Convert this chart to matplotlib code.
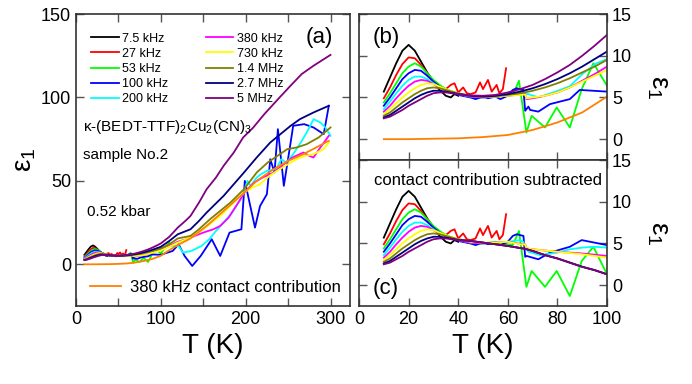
import matplotlib
matplotlib.use("Agg")
import matplotlib.pyplot as plt

plt.rcParams['font.family'] = ['Liberation Sans', 'DejaVu Sans']
plt.rcParams['mathtext.fontset'] = 'custom'
plt.rcParams['mathtext.rm'] = 'Liberation Sans'
plt.rcParams['mathtext.it'] = 'Liberation Sans'
plt.rcParams['mathtext.bf'] = 'Liberation Sans:bold'

# ---- data ----
freqs = ["7.5 kHz", "27 kHz", "53 kHz", "100 kHz", "200 kHz",
         "380 kHz", "730 kHz", "1.4 MHz", "2.7 MHz", "5 MHz"]
colors = ["#000000", "#ff0000", "#00ff00", "#0000ff", "#00ffff",
          "#ff00ff", "#ffff00", "#808000", "#000080", "#800080"]

T_low = [10, 12.5, 15, 17.5, 20, 22.5, 25, 27.5, 30, 32.5, 35, 40, 45, 50, 55, 60]

T_black = [10, 12.5, 15, 17.5, 20, 22.5, 25, 27.5, 30, 32.5, 35, 37, 38.5, 40]
e_black = [5.7, 7.4, 9.1, 10.6, 11.3, 10.6, 9.3, 8.0, 6.9, 5.9, 5.2, 5.0, 5.4, 5.2]

T_red = [10, 12.5, 15, 17.5, 20, 22.5, 25, 27.5, 30, 32.5, 35, 37, 38.5, 40, 42, 43.5,
         45, 47, 48.8, 50, 52, 53.5, 55.5, 56.6, 58, 59.3]
e_red = [4.9, 6.2, 7.7, 9.0, 9.8, 9.7, 8.9, 7.9, 7.0, 6.4, 6.0, 6.5, 6.7, 5.6, 6.2, 5.5,
         5.4, 5.6, 6.8, 6.0, 7.1, 5.7, 6.5, 5.5, 6.0, 8.5]

T_green = [10, 12.5, 15, 17.5, 20, 22.5, 25, 27.5, 30, 32.5, 35, 40, 45, 50, 55, 60,
           62, 64.5, 67.5, 69.6, 75, 79.7, 85, 89.8, 94.5, 100, 105, 110]
e_green = [4.4, 5.5, 6.7, 7.9, 8.7, 9.1, 8.7, 7.9, 7.1, 6.5, 6.0, 5.4, 5.0, 5.0, 5.2, 5.4,
           5.3, 7.0, 0.8, 2.8, 1.4, 3.8, 1.4, 6.0, 9.1, 6.4, 10, 13]
Tc_green = [60, 62, 64.5, 67.5, 69.6, 75, 79.7, 85, 89.8, 94.5, 100]
ec_green = [4.9, 4.8, 6.5, -0.2, 1.7, -0.2, 1.7, -1.3, 2.9, 4.6, 1.3]

T_blue = [10, 12.5, 15, 17.5, 20, 22.5, 25, 27.5, 30, 32.5, 35, 40, 45, 47, 50, 52, 55, 57,
          60, 62, 63.6, 66.3, 67, 68.3, 69, 72.3, 77, 85, 89, 100, 114, 121, 128, 137,
          147, 160, 170, 181, 195, 199, 211, 217, 225, 229, 234, 238, 245, 253, 256,
          269, 280, 292, 298]
e_blue = [4.0, 5.0, 6.1, 7.2, 7.9, 8.3, 8.2, 7.6, 6.9, 6.3, 5.9, 5.3, 5.0, 4.8, 5.1, 4.9, 5.1, 4.8,
          5.2, 5.9, 6.1, 5.9, 3.4, 3.9, 3.5, 3.3, 4.2, 4.8, 5.9, 5.7, 8, 12, 5, -1,
          5, 15, 5, 19, 21, 50, 22, 35, 42, 63, 55, 81, 47, 73, 83,
          84, 82, 78, 95]
Tc_blue = [67.6, 72.3, 77, 85, 89.8, 100]
ec_blue = [3.5, 3.1, 3.9, 4.6, 5.4, 4.8]

T_cyan = T_low + [65, 66.5, 68.3, 72.3, 79.7, 85, 90.4, 95.8, 100, 110, 121, 126, 136, 148,
                  157, 165, 174, 184, 193, 197, 202, 206, 213, 218, 225, 236, 242, 248,
                  256, 265, 272, 280, 288, 294, 300]
e_cyan = [3.6, 4.5, 5.5, 6.4, 7.1, 7.5, 7.5, 7.2, 6.7, 6.2, 5.9, 5.4, 5.1, 5.0, 5.1, 5.2] + \
         [5.4, 5.5, 5.4, 5.0, 5.75, 6.35, 7.9, 9.1, 9.6, 11, 11, 7, 8, 11,
          15, 20, 25, 31, 38, 42, 50, 47, 52, 54, 56, 57, 63, 61,
          66, 73, 79, 87, 85, 82, 77]
Tc_cyan = [66.2, 68.3, 73, 80, 85, 90, 95, 100]
ec_cyan = [5.2, 4.0, 3.6, 3.9, 4.3, 4.5, 4.6, 4.5]

T_mag = T_low + [65, 67, 67.5, 70, 75, 80, 85, 90, 95, 100, 110, 120, 130, 140, 150, 162,
                 170, 180, 190, 200, 210, 220, 233, 245, 255, 268, 275, 280, 288, 298]
e_mag = [3.3, 4.0, 4.9, 5.7, 6.4, 6.9, 7.1, 7.0, 6.6, 6.2, 5.9, 5.4, 5.1, 5.0, 5.1, 5.2] + \
        [5.35, 5.4, 4.8, 4.9, 5.2, 5.6, 6.2, 7.0, 7.8, 8.7, 11, 13.5, 15, 17, 19, 21,
         23, 28, 36, 44, 49, 52, 55, 60, 64, 67, 65, 64, 70, 77]
Tc_mag = [65, 67, 67.5, 70, 80, 90, 100]
ec_mag = [4.95, 4.9, 4.4, 4.3, 4.0, 3.8, 3.5]

T_yel = T_low + [65, 67, 67.5, 70, 75, 80, 85, 90, 95, 100, 110, 120, 130, 140, 150, 160,
                 170, 180, 190, 198, 208, 217, 228, 240, 250, 260, 270, 280, 292, 298]
e_yel = [3.0, 3.6, 4.3, 5.0, 5.6, 6.1, 6.5, 6.7, 6.6, 6.3, 6.0, 5.5, 5.2, 5.1, 5.1, 5.2] + \
        [5.3, 5.35, 4.9, 5.0, 5.2, 5.6, 6.2, 6.9, 7.6, 8.3, 10.5, 13, 15, 17.5, 21, 25,
         29, 34, 39, 43, 46, 48, 53, 57, 60, 63, 65, 66, 69, 73]
Tc_yel = [65, 67, 67.5, 70, 80, 90, 100]
ec_yel = [4.9, 4.9, 4.45, 4.3, 4.0, 3.7, 3.3]

T_olive = T_low + [65, 70, 75, 80, 85, 90, 95, 100, 110, 120, 135, 145, 158, 170, 182,
                   198, 213, 226, 249, 260, 272, 286, 300]
e_olive = [2.8, 3.2, 3.8, 4.4, 4.9, 5.4, 5.8, 6.1, 6.2, 6.1, 5.9, 5.5, 5.2, 5.1, 5.15, 5.3] + \
          [5.5, 5.8, 6.2, 6.7, 7.3, 8.0, 8.7, 9.5, 12, 15.5, 17, 21, 27, 32, 37,
           45, 55, 61, 69, 70, 72, 76, 82]

T_navy = T_low + [65, 70, 75, 80, 85, 90, 95, 100, 110, 120, 135, 145, 154, 164, 174, 186,
                  198, 213, 229, 241, 253, 264, 280, 298]
e_navy = [2.6, 2.9, 3.4, 3.9, 4.4, 4.9, 5.3, 5.6, 5.8, 5.8, 5.7, 5.4, 5.2, 5.1, 5.2, 5.4] + \
         [5.7, 6.1, 6.6, 7.2, 7.9, 8.7, 9.6, 10.5, 14, 18, 21, 26, 31, 36, 41, 48,
          55, 64, 73, 78, 83, 87, 91, 95]

T_pur = T_low + [65, 70, 75, 80, 85, 90, 95, 100, 110, 120, 130, 135, 145, 154, 165, 174,
                 186, 197, 209, 222, 240, 251, 266, 280, 300]
e_pur = [2.5, 2.7, 3.1, 3.5, 4.0, 4.4, 4.8, 5.2, 5.5, 5.6, 5.6, 5.4, 5.25, 5.2, 5.3, 5.6] + \
        [6.0, 6.5, 7.2, 8.0, 8.9, 10.0, 11.2, 12.5, 16.5, 22, 26.5, 29, 37, 45, 52, 59,
         67, 76, 82, 90, 100, 106, 114, 119, 125.5]

# high-frequency curves after subtraction (they coincide)
Tc_hf = [45, 50, 55, 60, 65, 67, 70, 75, 80, 85, 90, 95, 100]
ec_hf = [5.3, 5.1, 4.9, 4.7, 4.45, 4.35, 4.1, 3.6, 3.2, 2.7, 2.2, 1.8, 1.3]

T_contact = [10, 20, 30, 40, 50, 60, 70, 80, 90, 100, 110, 120, 135, 154, 174, 194,
             213, 233, 250, 268, 283, 298]
e_contact = [0, 0, 0.05, 0.1, 0.25, 0.5, 1.1, 2.0, 3.2, 5.1, 8.5, 11.5, 15.5, 23, 32, 41,
             50, 57, 62, 66, 70, 74]

curves_T = [T_black, T_red, T_green, T_blue, T_cyan, T_mag, T_yel, T_olive, T_navy, T_pur]
curves_e = [e_black, e_red, e_green, e_blue, e_cyan, e_mag, e_yel, e_olive, e_navy, e_pur]
subtr = [None, None, (Tc_green, ec_green), (Tc_blue, ec_blue), (Tc_cyan, ec_cyan),
         (Tc_mag, ec_mag), (Tc_yel, ec_yel), (Tc_hf, ec_hf), (Tc_hf, ec_hf), (Tc_hf, ec_hf)]


def subtracted(T, e, part):
    if part is None:
        return T, e
    Tc, ec = part
    keep = [i for i, t in enumerate(T) if t < Tc[0]]
    return [T[i] for i in keep] + Tc, [e[i] for i in keep] + ec


fig = plt.figure(figsize=(6.92, 3.84), dpi=100)
axa = fig.add_axes([0.1098, 0.2031, 0.396, 0.7604])
axb = fig.add_axes([0.5188, 0.5833, 0.3584, 0.3802])
axc = fig.add_axes([0.5188, 0.2031, 0.3584, 0.3802])

lw = 1.3
for T, e, c, lab in zip(curves_T, curves_e, colors, freqs):
    axa.plot(T, e, color=c, lw=lw, label=lab)
    axb.plot(T, e, color=c, lw=lw)
cline, = axa.plot(T_contact, e_contact, color="#ff8000", lw=lw)
axb.plot(T_contact, e_contact, color="#ff8000", lw=lw)

for T, e, c, part in zip(curves_T, curves_e, colors, subtr):
    Ts, es = subtracted(T, e, part)
    axc.plot(Ts, es, color=c, lw=lw)

# axes styling
for ax in (axa, axb, axc):
    ax.tick_params(direction="in", top=True, right=True, length=6, width=1,
                   labelsize=13, color="#555555")
    for s in ax.spines.values():
        s.set_linewidth(1.2)
        s.set_color("#333333")

axa.set_xlim(0, 323)
axa.set_ylim(-25, 150)
axa.set_xticks([0, 100, 200, 300])
axa.set_xticks([50, 150, 250], minor=True)
axa.tick_params(which="minor", direction="in", top=True, length=6, width=1, color="#555555")
axa.set_yticks([0, 50, 100, 150])
axa.set_xlabel("T (K)", fontsize=20, labelpad=4)
axa.set_ylabel(r"$\varepsilon_1$", fontsize=20, labelpad=2)

for ax in (axb, axc):
    ax.set_xlim(0, 100)
    ax.set_ylim(-2.5, 15)
    ax.set_xticks([0, 20, 40, 60, 80, 100])
    ax.set_yticks([0, 5, 10, 15])
    ax.tick_params(labelleft=False, labelright=True)
    ax.yaxis.set_label_position("right")
    ax.set_ylabel(r"$\varepsilon_1$", fontsize=20, rotation=270, labelpad=28)
axb.tick_params(labelbottom=False)
axc.set_xlabel("T (K)", fontsize=20, labelpad=4)

# legends and annotations
leg = axa.legend(loc="upper left", bbox_to_anchor=(0.055, 0.936), ncol=2, frameon=False,
                 fontsize=9, handlelength=2.2, handletextpad=0.3, labelspacing=0.25,
                 columnspacing=3.0, borderpad=0, borderaxespad=0)
axa.add_artist(leg)
axa.legend([cline], ["380 kHz contact contribution"], loc="center left",
           bbox_to_anchor=(0.05, 0.065), frameon=False, fontsize=12,
           handlelength=1.9, handletextpad=0.5, borderpad=0, borderaxespad=0)

axa.text(0.887, 0.918, "(a)", transform=axa.transAxes, fontsize=16, ha="center", va="center")
axa.text(0.0255, 0.613, r"κ-(BEDT-TTF)$_2$Cu$_2$(CN)$_3$", transform=axa.transAxes,
         fontsize=11, ha="left", va="center")
axa.text(0.0255, 0.517, "sample No.2", transform=axa.transAxes, fontsize=11,
         ha="left", va="center")
axa.text(0.04, 0.322, "0.52 kbar", transform=axa.transAxes, fontsize=11,
         ha="left", va="center")
axb.text(0.109, 0.836, "(b)", transform=axb.transAxes, fontsize=16, ha="center", va="center")
axc.text(0.109, 0.123, "(c)", transform=axc.transAxes, fontsize=16, ha="center", va="center")
axc.text(0.52, 0.863, "contact contribution subtracted", transform=axc.transAxes,
         fontsize=12, ha="center", va="center")

fig.savefig("out.png", dpi=100)
